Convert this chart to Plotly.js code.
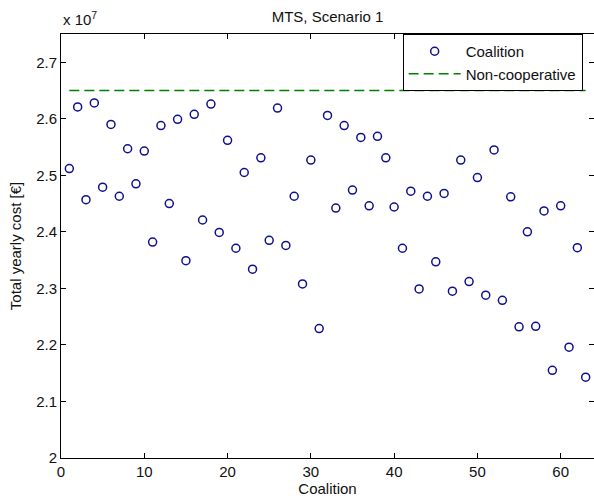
<!DOCTYPE html>
<html>
<head>
<meta charset="utf-8">
<script src="https://cdn.plot.ly/plotly-3.0.1.min.js"></script>
<style>html,body{margin:0;padding:0;background:#fff;}#chart{width:594px;height:502px;}</style>
</head>
<body>
<div id="chart"></div>
<script>
// Coalition index
const coalitions = [1,2,3,4,5,6,7,8,9,10,11,12,13,14,15,16,17,18,19,20,21,22,23,24,25,26,27,28,29,30,31,32,33,34,35,36,37,38,39,40,41,42,43,44,45,46,47,48,49,50,51,52,53,54,55,56,57,58,59,60,61,62,63];
// Total yearly cost, in units of 1e7 EUR
const coalitionCost = [2.512,2.621,2.457,2.628,2.479,2.590,2.463,2.547,2.485,2.543,
  2.382,2.588,2.450,2.599,2.349,2.608,2.421,2.626,2.399,2.562,
  2.371,2.505,2.334,2.531,2.385,2.619,2.376,2.463,2.308,2.527,
  2.229,2.606,2.442,2.588,2.474,2.567,2.446,2.569,2.531,2.444,
  2.371,2.472,2.299,2.463,2.347,2.468,2.295,2.527,2.312,2.496,
  2.288,2.545,2.279,2.462,2.232,2.400,2.233,2.437,2.155,2.446,
  2.196,2.372,2.143];
const nonCoopX = [1, 63];
const nonCoopCost = [2.65, 2.65];
const xTicks = [0,10,20,30,40,50,60];
const yTicks = [2,2.1,2.2,2.3,2.4,2.5,2.6,2.7];
const yTickText = ['2','2.1','2.2','2.3','2.4','2.5','2.6','2.7'];

const FONT = 'Liberation Sans, Arial, sans-serif';
const traces = [
  {x: coalitions, y: coalitionCost, type: 'scatter', mode: 'markers', name: 'Coalition',
   marker: {symbol: 'circle-open', size: 8, color: 'rgb(16,16,140)', line: {width: 1.5, color: 'rgb(16,16,140)'}}},
  {x: nonCoopX, y: nonCoopCost, type: 'scatter', mode: 'lines', name: 'Non-cooperative',
   line: {color: 'rgb(0,128,0)', width: 1.4, dash: '10px,5px'}}
];
const axisCommon = {
  showline: true, linecolor: '#000', linewidth: 1, mirror: 'ticks',
  ticks: 'inside', ticklen: 5, tickwidth: 1, tickcolor: '#000',
  showgrid: false, zeroline: false, fixedrange: true,
  tickfont: {family: FONT, size: 15, color: '#111'}
};
const layout = {
  width: 594, height: 502,
  margin: {l: 61, r: 0, t: 34, b: 44, pad: 0},
  paper_bgcolor: '#fff', plot_bgcolor: '#fff',
  font: {family: FONT, size: 15, color: '#111'},
  title: {text: 'MTS, Scenario 1', x: 0.5, xref: 'paper', xanchor: 'center', y: 0.966, yref: 'container', yanchor: 'middle', font: {family: FONT, size: 15, color: '#111'}},
  xaxis: Object.assign({}, axisCommon, {range: [0, 64], tickvals: xTicks, ticktext: xTicks.map(String),
    title: {text: 'Coalition', standoff: 4, font: {family: FONT, size: 15, color: '#111'}}}),
  yaxis: Object.assign({}, axisCommon, {range: [2, 2.75], tickvals: yTicks, ticktext: yTickText,
    title: {text: 'Total yearly cost [€]', standoff: 10, font: {family: FONT, size: 15, color: '#111'}}}),
  showlegend: true,
  legend: {x: 0.641, xanchor: 'left', y: 1, yanchor: 'top', bgcolor: '#fff', bordercolor: '#000', borderwidth: 1,
    itemwidth: 52, font: {family: FONT, size: 15, color: '#111'}},
  annotations: [
    {text: 'x 10<sup>7</sup>', xref: 'paper', yref: 'paper', x: 0, y: 1.01, xanchor: 'left', yanchor: 'bottom', showarrow: false,
     font: {family: FONT, size: 15, color: '#111'}}
  ]
};
Plotly.newPlot('chart', traces, layout, {displayModeBar: false, staticPlot: true});
</script>
</body>
</html>
